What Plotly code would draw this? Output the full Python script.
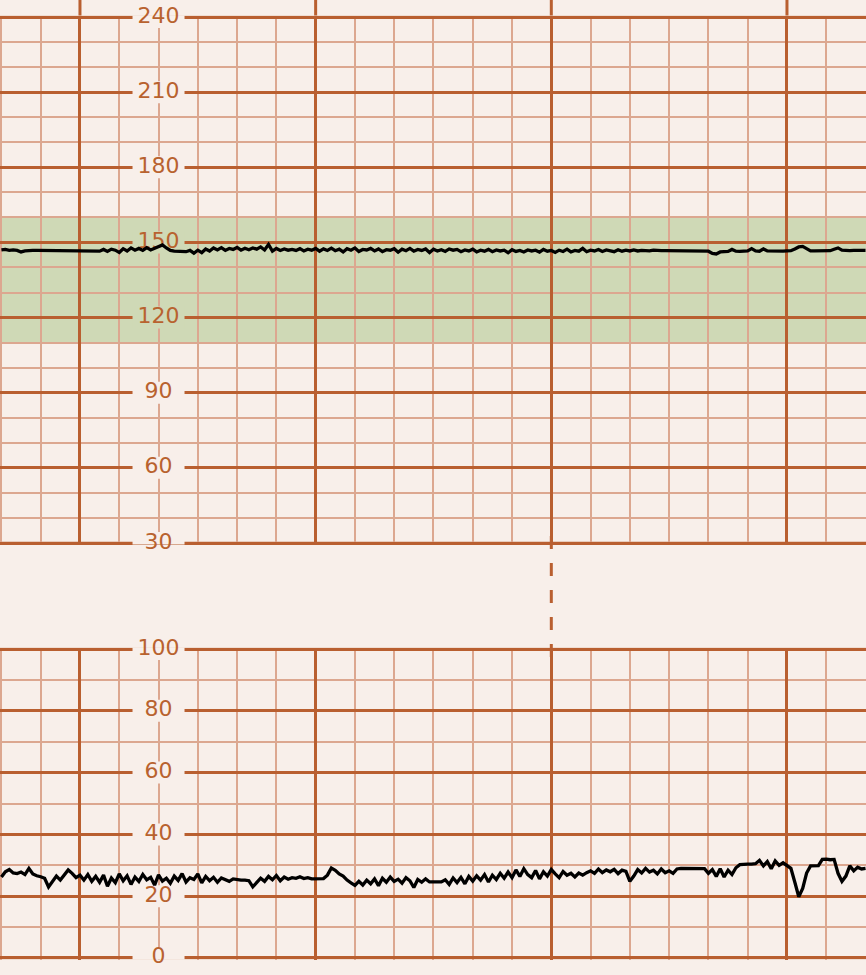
import numpy as np
import plotly.graph_objects as go

# ---------------- data ----------------
t_start = -1.0      # minutes
t_step = 0.05       # minutes per sample

fhr = [
    147.0, 147.2, 146.8, 147.0, 146.8, 146.2, 146.6, 146.8, 146.8, 146.8,
    146.8, 146.8, 146.8, 146.8, 146.8, 146.8, 146.8, 146.8, 146.8, 146.8,
    146.8, 146.8, 146.8, 146.8, 146.8,
    146.5, 147.2, 146.4, 147.3, 146.9, 146.0, 147.5, 146.6, 147.8, 146.9,
    147.6, 146.8, 147.9, 147.0, 147.6, 148.3, 149.0, 147.8, 146.8, 146.5,
    146.4, 146.6, 146.3, 146.8, 145.7, 146.9, 145.9, 147.4, 146.6, 147.8,
    147.0, 147.9, 146.8, 147.6, 147.2, 148.0, 146.9, 147.7, 147.1, 147.8,
    147.3, 148.2, 147.0, 149.2, 146.5, 147.6, 146.8, 147.4, 146.9, 147.2,
    146.8, 147.5, 146.6, 147.3, 146.9, 147.6, 146.5, 147.4, 146.8, 147.7,
    146.7, 147.3, 146.2, 147.5, 146.9, 147.8, 146.4, 147.2, 147.0, 147.6,
    146.6, 147.4, 146.3, 147.1, 146.9, 147.5, 146.1, 147.3, 146.7, 147.6,
    146.5, 147.2, 146.8, 147.4, 146.0, 147.3, 146.6, 147.1, 146.4, 147.4,
    146.9, 147.2, 146.3, 147.0, 146.6, 147.3, 146.2, 146.9, 146.5, 147.2,
    146.3, 147.0, 146.6, 146.9, 145.9, 147.1, 146.4, 146.8, 146.2, 147.0,
    146.6, 146.9, 146.1, 147.2, 146.5, 146.8, 146.0, 146.9, 146.4, 147.3,
    146.2, 146.8, 146.5, 147.6, 146.3, 146.9, 146.6, 147.2, 146.4, 147.0,
    146.7, 146.3, 147.1, 146.5, 146.9, 146.6, 147.0, 146.6, 146.8, 146.7,
    146.6, 146.9, 146.7, 146.7, 146.7,
    146.7, 146.7, 146.7, 146.7, 146.7, 146.7, 146.7, 146.7, 146.7, 146.7,
    146.5, 145.6, 145.4, 146.2, 146.4, 146.4, 147.2, 146.5, 146.4, 146.4,
    146.6, 147.5, 146.6, 146.5, 147.4, 146.6, 146.5, 146.5, 146.5, 146.5,
    146.6, 146.7, 147.4, 148.2, 148.4, 147.4, 146.6, 146.6, 146.7, 146.7,
    146.7, 146.7, 147.3, 147.8, 146.9, 146.7, 146.7, 146.8, 146.8, 146.8,
    146.8,
]

ua = [
    26.2, 27.9, 28.6, 27.5, 27.3, 27.8, 27.0, 29.0, 27.2, 26.6,
    26.3, 25.8, 23.0, 24.6, 26.5, 25.2, 26.8, 28.5, 27.4, 26.0,
    26.8, 25.2, 27.0, 24.8, 26.4,
    24.5, 26.8, 23.2, 25.9, 24.4, 27.2, 25.0, 26.6, 23.8, 26.2,
    24.8, 27.0, 25.3, 26.1, 23.6, 26.9, 24.9, 25.8, 24.2, 26.5,
    25.1, 27.3, 24.6, 26.0, 25.4, 27.2, 24.3, 26.4, 25.0, 26.1,
    24.5, 25.9, 25.2, 24.8, 25.6, 25.3, 25.2, 25.2, 25.0, 23.0,
    24.6, 25.8, 24.8, 26.4, 25.3, 26.7, 25.0, 26.2, 25.5, 26.0,
    25.8, 26.3, 25.7, 26.0, 25.6, 25.6, 25.6, 25.7,
    26.8, 29.1, 28.4, 27.2,
    26.5, 25.2, 24.3, 23.5, 24.8,
    23.6, 25.2, 24.0, 25.6, 23.4, 25.8, 24.5, 26.2, 24.8, 25.5,
    24.2, 26.0, 25.0, 22.8, 25.4, 24.5, 25.6,
    24.6, 24.6, 24.7, 24.6,
    25.3, 23.8, 25.9, 24.4, 26.1, 24.0, 26.4, 24.9, 26.6, 25.2,
    27.0, 24.6, 26.8, 25.4, 27.4, 25.8,
    27.8, 26.0, 28.5, 26.4, 28.9, 27.0, 26.0, 28.3, 25.6, 27.9,
    26.5, 28.6, 27.2, 26.0, 28.0, 26.8, 27.4, 26.2, 27.5, 26.8, 27.6,
    28.2, 27.4, 28.8, 27.6, 28.5, 27.9, 28.7, 27.3, 28.4, 28.0,
    24.8, 26.5,
    28.6, 27.5, 29.0, 27.8, 28.4, 27.2, 28.8, 27.6, 28.2, 27.4,
    28.8, 29.0, 29.0, 29.0, 29.0, 29.0, 29.0, 28.9,
    27.4, 28.6, 26.4, 28.9, 26.2, 28.4, 27.0, 29.2,
    30.2, 30.4, 30.4, 30.4, 30.5,
    31.6, 29.8, 31.2, 28.9, 31.4, 30.0, 30.8,
    29.8, 29.0,
    24.5, 19.8, 22.5, 27.5, 29.8,
    29.8, 29.9,
    31.9, 32.0, 31.8, 31.9,
    27.4, 24.8, 26.5,
    29.8, 28.2, 29.4, 28.8, 29.0,
]

fhr_ticks = [30, 60, 90, 120, 150, 180, 210, 240]
ua_ticks = [0, 20, 40, 60, 80, 100]
normal_band = [110, 160]
major_times = [0, 3, 6, 9]
label_time = 1.0
dashed_time = 6

t_fhr = t_start + t_step * np.arange(len(fhr))
t_ua = t_start + t_step * np.arange(len(ua))

# ---------------- style ----------------
BG = "#f8efea"
MAJOR = "#b95f30"
MINOR = "#dca790"
BAND = "#cfd9b6"
LABEL = "#b8622f"
FONT = "DejaVu Sans"

W, H = 866, 975
xrange_ = [-1.018, 10.006]
eps_top = 0.6
eps_bot = 0.5
top_dom = [1 - (543 + 1.5) / H, 1 - (17 - 1.5) / H]
bot_dom = [1 - (958 + 1.5) / H, 1 - (649 - 1.5) / H]

fig = go.Figure()

# tick labels as text traces (drawn under the data traces)
fig.add_trace(go.Scatter(x=[label_time] * len(fhr_ticks), y=fhr_ticks,
                         text=[str(v) for v in fhr_ticks], mode="text",
                         textposition="middle center", cliponaxis=False,
                         textfont=dict(family=FONT, size=22, color=LABEL),
                         xaxis="x", yaxis="y", showlegend=False,
                         hoverinfo="skip"))
fig.add_trace(go.Scatter(x=[label_time] * len(ua_ticks), y=ua_ticks,
                         text=[str(v) for v in ua_ticks], mode="text",
                         textposition="middle center", cliponaxis=False,
                         textfont=dict(family=FONT, size=22, color=LABEL),
                         xaxis="x2", yaxis="y2", showlegend=False,
                         hoverinfo="skip"))

fig.add_trace(go.Scatter(x=t_fhr, y=fhr, mode="lines",
                         line=dict(color="black", width=3.3),
                         xaxis="x", yaxis="y", showlegend=False,
                         hoverinfo="skip"))
fig.add_trace(go.Scatter(x=t_ua, y=ua, mode="lines",
                         line=dict(color="black", width=3.3),
                         xaxis="x2", yaxis="y2", showlegend=False,
                         hoverinfo="skip"))

xax = dict(range=xrange_, showticklabels=False, ticks="", zeroline=False,
           showgrid=True, gridcolor=MAJOR, gridwidth=3, tick0=0, dtick=3,
           minor=dict(tick0=0, dtick=0.5, showgrid=True, gridcolor=MINOR,
                      gridwidth=2),
           showline=False, fixedrange=True)

fig.update_layout(
    width=W, height=H,
    margin=dict(l=0, r=0, t=0, b=0),
    paper_bgcolor=BG, plot_bgcolor=BG,
    xaxis=dict(xax, domain=[0, 1], anchor="y"),
    xaxis2=dict(xax, domain=[0, 1], anchor="y2", matches="x"),
    yaxis=dict(domain=top_dom, range=[30 - eps_top, 240 + eps_top], anchor="x",
               showticklabels=False, ticks="", zeroline=False, fixedrange=True,
               showgrid=True, gridcolor=MAJOR, gridwidth=2.5, tick0=0, dtick=30,
               minor=dict(tick0=0, dtick=10, showgrid=True, gridcolor=MINOR,
                          gridwidth=2)),
    yaxis2=dict(domain=bot_dom, range=[0 - eps_bot, 100 + eps_bot], anchor="x2",
                showticklabels=False, ticks="", zeroline=False, fixedrange=True,
                showgrid=True, gridcolor=MAJOR, gridwidth=2.5, tick0=0, dtick=20,
                minor=dict(tick0=0, dtick=10, showgrid=True, gridcolor=MINOR,
                           gridwidth=2)),
)

shapes = [dict(type="rect", xref="paper", yref="y", x0=0, x1=1,
               y0=normal_band[0], y1=normal_band[1], fillcolor=BAND,
               line=dict(width=0), layer="below")]
# boundary lines of each panel (first/last tick)
for yr, ticks in (("y", fhr_ticks), ("y2", ua_ticks)):
    for v in (ticks[0], ticks[-1]):
        shapes.append(dict(type="line", xref="paper", yref=yr, x0=0, x1=1,
                           y0=v, y1=v, line=dict(color=MAJOR, width=2.5),
                           layer="below"))
# label boxes that interrupt the grid lines
for v in fhr_ticks:
    inside = normal_band[0] < v < normal_band[1]
    shapes.append(dict(type="rect", xref="x", yref="y",
                       xsizemode="pixel", ysizemode="pixel",
                       xanchor=label_time, yanchor=v,
                       x0=-26, x1=26, y0=-11, y1=11,
                       fillcolor=BAND if inside else BG,
                       line=dict(width=0), layer="between"))
for v in ua_ticks:
    shapes.append(dict(type="rect", xref="x2", yref="y2",
                       xsizemode="pixel", ysizemode="pixel",
                       xanchor=label_time, yanchor=v,
                       x0=-26, x1=26, y0=-11, y1=11,
                       fillcolor=BG, line=dict(width=0), layer="between"))
for mt in major_times:
    shapes.append(dict(type="line", xref="x", yref="paper", x0=mt, x1=mt,
                       y0=top_dom[1], y1=1, line=dict(color=MAJOR, width=3)))
shapes.append(dict(type="line", xref="x", yref="paper",
                   x0=dashed_time, x1=dashed_time,
                   y0=1 - 536 / H, y1=1 - 657 / H,
                   line=dict(color=MAJOR, width=3, dash="13px,14px")))
fig.update_layout(shapes=shapes)

fig.write_html("out.html", config={"displayModeBar": False},
               post_script="document.body.style.margin='0';")
